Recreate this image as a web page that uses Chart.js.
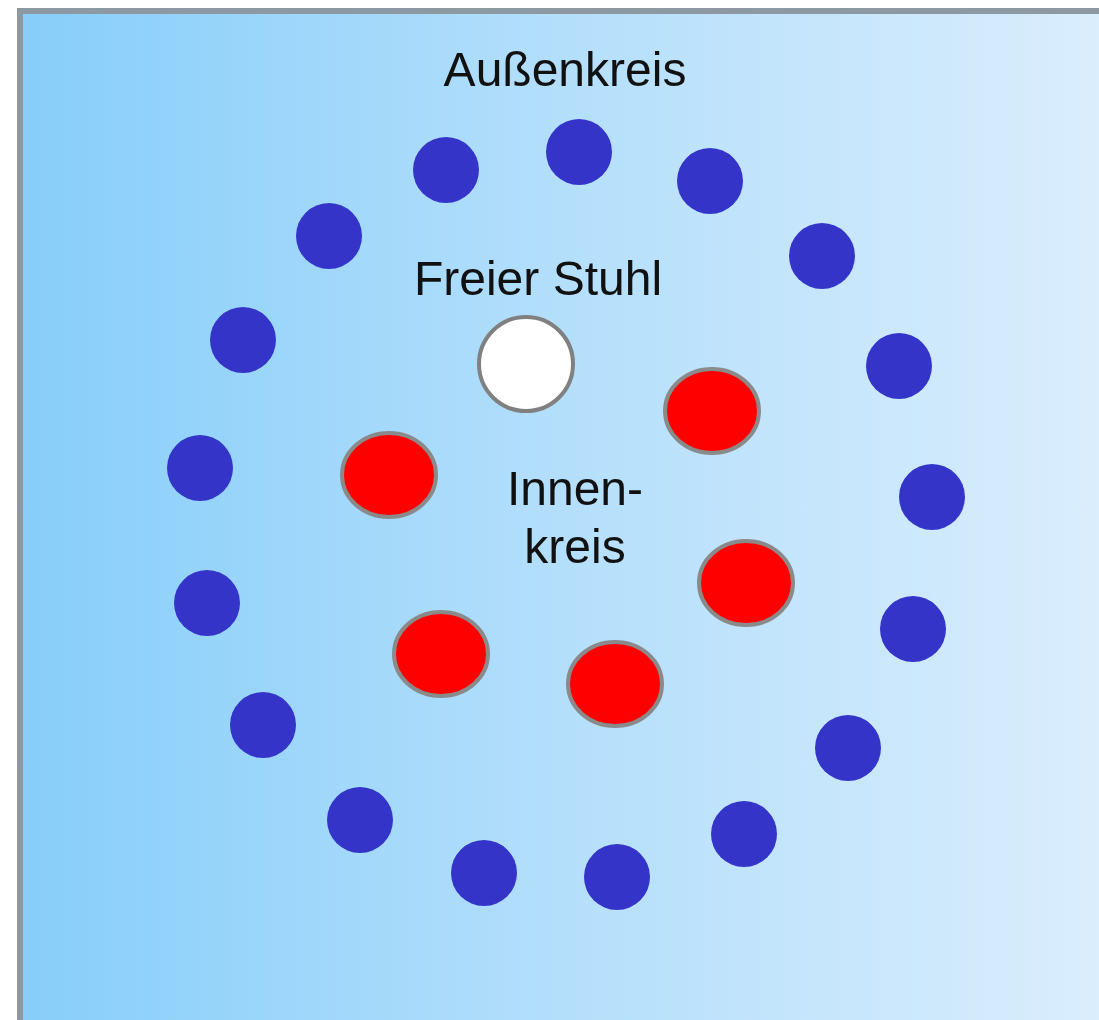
<!DOCTYPE html>
<html>
<head>
<meta charset="utf-8">
<script src="https://cdn.jsdelivr.net/npm/chart.js@4.4.0/dist/chart.umd.min.js"></script>
<style>
  html, body { margin: 0; padding: 0; background: #fff; overflow: hidden; }
  #frame {
    position: absolute; left: 17px; top: 8px; width: 1090px; height: 1020px;
    border-top: 6px solid #8c99a3; border-left: 6px solid #8c99a3;
    background: linear-gradient(to right, #87cefa 0%, #b4dffb 50%, #dbeefd 100%);
  }
  #chart { position: absolute; left: 0; top: 0; }
</style>
</head>
<body>
<div id="frame"></div>
<canvas id="chart" width="1099" height="1020"></canvas>
<script>
// outer circle seats (blue)
const outerX = [579, 446, 710, 329, 822, 243, 899, 200, 932, 207, 913, 263, 848, 360, 744, 484, 617];
const outerY = [152, 170, 181, 236, 256, 340, 366, 468, 497, 603, 629, 725, 748, 820, 834, 873, 877];

// inner circle seats (red)
const innerX = [389, 712, 746, 441, 615];
const innerY = [475, 411, 583, 654, 684];

// free chair (white)
const freeX = [526];
const freeY = [364];

// text labels
const labelTexts = ['Außenkreis', 'Freier Stuhl', 'Innen-', 'kreis'];
const labelX = [565, 538, 575, 575];
const labelY = [73, 282, 492, 550];

const toPoints = (xs, ys) => xs.map((x, i) => ({ x: x, y: ys[i] }));

// red seats are slightly oval, so draw them as an image
const oval = document.createElement('canvas');
oval.width = 102;
oval.height = 92;
const oc = oval.getContext('2d');
oc.beginPath();
oc.ellipse(51, 46, 47, 42, 0, 0, Math.PI * 2);
oc.fillStyle = '#ff0000';
oc.fill();
oc.lineWidth = 4;
oc.strokeStyle = '#8a8a8a';
oc.stroke();

const labelPlugin = {
  id: 'labels',
  afterDatasetsDraw(chart) {
    const ctx = chart.ctx;
    const xs = chart.scales.x;
    const ys = chart.scales.y;
    ctx.save();
    ctx.font = '48px "Liberation Sans", Arial, sans-serif';
    ctx.fillStyle = '#111111';
    ctx.textAlign = 'center';
    ctx.textBaseline = 'middle';
    labelTexts.forEach((t, i) => {
      ctx.fillText(t, xs.getPixelForValue(labelX[i]), ys.getPixelForValue(labelY[i]));
    });
    ctx.restore();
  }
};

const ctx = document.getElementById('chart').getContext('2d');

new Chart(ctx, {
  type: 'scatter',
  data: {
    datasets: [
      {
        label: 'Außenkreis',
        data: toPoints(outerX, outerY),
        backgroundColor: '#3434c8',
        borderWidth: 0,
        pointRadius: 33,
        pointHoverRadius: 33
      },
      {
        label: 'Innenkreis',
        data: toPoints(innerX, innerY),
        pointStyle: oval,
        pointRadius: 46
      },
      {
        label: 'Freier Stuhl',
        data: toPoints(freeX, freeY),
        backgroundColor: '#ffffff',
        borderColor: '#808080',
        borderWidth: 4,
        pointRadius: 47,
        pointHoverRadius: 47
      }
    ]
  },
  options: {
    responsive: false,
    animation: false,
    layout: { padding: 0, autoPadding: false },
    plugins: {
      legend: { display: false },
      tooltip: { enabled: false }
    },
    scales: {
      x: { type: 'linear', min: 0, max: 1099, display: false },
      y: { type: 'linear', min: 0, max: 1020, reverse: true, display: false }
    }
  },
  plugins: [labelPlugin]
});
</script>
</body>
</html>
